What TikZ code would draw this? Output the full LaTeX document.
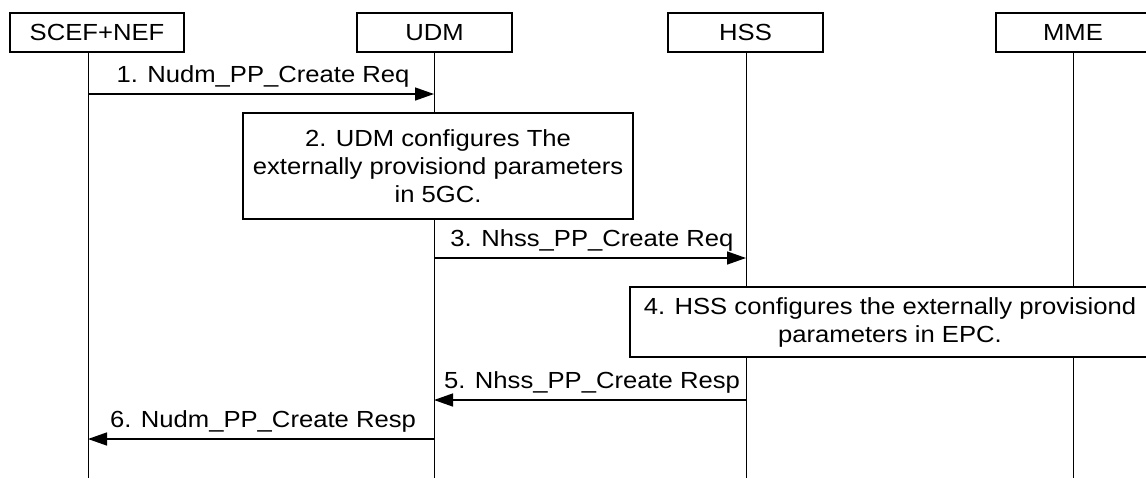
\documentclass[tikz,border=0pt]{standalone}
\usepackage{fontspec}
\setmainfont{Liberation Sans}[FakeStretch=1.10]
\usetikzlibrary{arrows.meta}
\begin{document}
\begin{tikzpicture}[x=0.5pt,y=-0.5pt,
  every node/.style={font=\fontsize{11.65pt}{14pt}\selectfont},
  actor/.style={draw, line width=0.65pt, minimum height=19.5pt, inner sep=0pt},
  lifeline/.style={line width=0.5pt},
  msg/.style={line width=0.7pt, -{Triangle[length=9.5pt,width=6.5pt]}},
  lbl/.style={anchor=base, yshift=5.75pt, xshift=1pt, inner sep=0pt},
  action/.style={draw, fill=white, line width=0.65pt, align=center, inner sep=0pt}]
\clip (0,0) rectangle (1146,478);
\useasboundingbox (0,0) rectangle (1146,478);

% actors
\node[actor, minimum width=87pt]   (scef) at (97,32.5)   {SCEF+NEF};
\node[actor, minimum width=77.5pt] (udm)  at (434.5,32.5) {UDM};
\node[actor, minimum width=77.5pt] (hss)  at (745.5,32.5) {HSS};
\node[actor, minimum width=77pt]   (mme)  at (1073,32.5)  {MME};

% lifeline ends
\coordinate (scefB) at (88,478);
\coordinate (udmB)  at (434,478);
\coordinate (hssB)  at (746,478);
\coordinate (mmeB)  at (1073,478);

\draw[lifeline] (scef.south -| scefB) -- (scefB);
\draw[lifeline] (udm.south -| udmB) -- (udmB);
\draw[lifeline] (hss.south -| hssB) -- (hssB);
\draw[lifeline] (mme.south -| mmeB) -- (mmeB);

% message end points
\coordinate (m1a) at (88,94);   \coordinate (m1b) at (434,94);
\coordinate (m3a) at (434,258); \coordinate (m3b) at (746,258);
\coordinate (m5a) at (746,400); \coordinate (m5b) at (434,400);
\coordinate (m6a) at (434,439); \coordinate (m6b) at (88,439);

\draw[msg] (m1a) -- (m1b) node[midway, lbl] {1. Nudm\_PP\_Create Req};

\node[action, minimum width=195pt, minimum height=53pt] (act2) at (438,166)
  {2. UDM configures The\\externally provisiond parameters\\in 5GC.};

\draw[msg] (m3a) -- (m3b) node[midway, lbl] {3. Nhss\_PP\_Create Req};

\node[action, minimum width=260pt, minimum height=35pt] (act4) at (890,322)
  {4. HSS configures the externally provisiond\\parameters in EPC.};

\draw[msg] (m5a) -- (m5b) node[midway, lbl] {5. Nhss\_PP\_Create Resp};
\draw[msg] (m6a) -- (m6b) node[midway, lbl] {6. Nudm\_PP\_Create Resp};
\end{tikzpicture}
\end{document}
